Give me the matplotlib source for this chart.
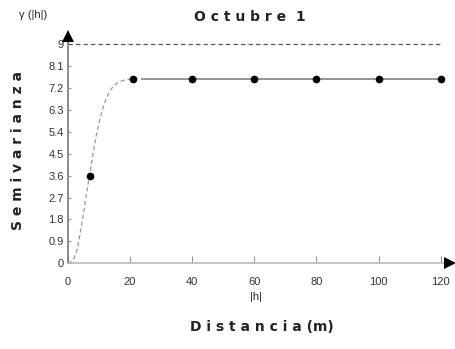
import numpy as np
import matplotlib.pyplot as plt

# experimental semivariogram points
lag = [7, 21, 40, 60, 80, 100, 120]
gamma = [3.6, 7.58, 7.58, 7.58, 7.58, 7.58, 7.58]

# fitted model curve
model_h = [0, 1, 2, 3, 4, 5, 6, 7, 8, 9, 10, 11, 12, 13, 14, 15, 16, 17, 18, 19, 20, 21]
model_g = [0, 0.05, 0.2, 0.55, 1.25, 2.0, 2.85, 3.6, 4.4, 5.15, 5.75, 6.25, 6.65,
           6.95, 7.17, 7.32, 7.42, 7.48, 7.52, 7.55, 7.57, 7.58]

# plateau segment and variance reference line
plateau_h = [24, 120]
plateau_g = [7.58, 7.58]
variance = 9

xticks = [0, 20, 40, 60, 80, 100, 120]
yticks = [0, 0.9, 1.8, 2.7, 3.6, 4.5, 5.4, 6.3, 7.2, 8.1, 9]
yticklabels = ['0', '0.9', '1.8', '2.7', '3.6', '4.5', '5.4', '6.3', '7.2', '8.1', '9']

fig = plt.figure(figsize=(4.55, 3.49), dpi=100)
ax = fig.add_axes([0.149, 0.246, 0.840, 0.651])

ax.plot(model_h, model_g, color='#a0a0a0', lw=1.0, ls=(0, (3, 2)))
ax.plot(plateau_h, plateau_g, color='#8c8c8c', lw=1.3)
ax.axhline(variance, xmin=0, xmax=120.5 / 123, color='#555555', lw=0.9, ls=(0, (3.5, 2.5)))
ax.plot(lag, gamma, 'o', color='black', ms=4.5)

ax.set_xlim(0, 123)
ax.set_ylim(0, 9.35)
ax.set_xticks(xticks)
ax.set_yticks(yticks)
ax.set_yticklabels(yticklabels)
ax.tick_params(axis='x', direction='in', length=5, color='#999999', labelsize=8,
               labelcolor='#333333', pad=10)
ax.tick_params(axis='y', direction='in', length=2, color='#999999', labelsize=8,
               labelcolor='#333333', pad=3)
for lbl in ax.get_xticklabels() + ax.get_yticklabels():
    lbl.set_family('Liberation Sans')

for s in ['top', 'right']:
    ax.spines[s].set_visible(False)
ax.spines['left'].set_color('#777777')
ax.spines['bottom'].set_color('#bbbbbb')
ax.spines['left'].set_linewidth(1.2)
ax.spines['bottom'].set_linewidth(1.2)

# axis arrows
ax.plot(1, 0, marker='>', color='black', ms=8, mew=0, transform=ax.transAxes,
        clip_on=False, zorder=5)
ax.plot(0, 1, marker='^', color='black', ms=8, mew=0, transform=ax.transAxes,
        clip_on=False, zorder=5)

fig.text(0.55, 0.952, 'O c t u b r e  1', ha='center', va='center',
         fontsize=10, fontweight='bold', color='#222222')
fig.text(0.073, 0.957, 'γ (|h|)', ha='center', va='center', fontsize=8,
         family='Liberation Sans', color='#222222')
fig.text(0.04, 0.57, 'S e m i v a r i a n z a', ha='center', va='center',
         rotation=90, fontsize=10, fontweight='bold', color='#222222')
fig.text(0.563, 0.148, '|h|', ha='center', va='center', fontsize=8,
         family='Liberation Sans', color='#222222')
fig.text(0.576, 0.062, 'D i s t a n c i a (m)', ha='center', va='center',
         fontsize=10, fontweight='bold', color='#222222')

fig.savefig('out.png', dpi=100)
